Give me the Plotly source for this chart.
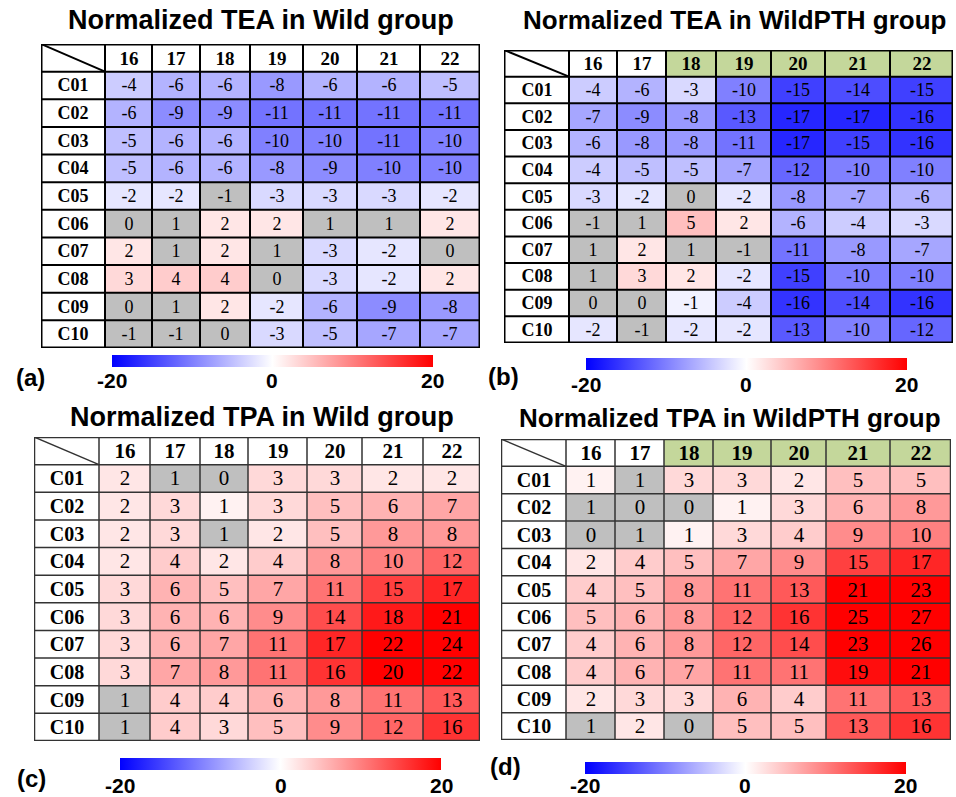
import numpy as np
import plotly.graph_objects as go

# ---------------- data ----------------
COLS = ["16", "17", "18", "19", "20", "21", "22"]
ROWS = ["C01", "C02", "C03", "C04", "C05", "C06", "C07", "C08", "C09", "C10"]

TEA_WILD = [
    [-4, -6, -6, -8, -6, -6, -5],
    [-6, -9, -9, -11, -11, -11, -11],
    [-5, -6, -6, -10, -10, -11, -10],
    [-5, -6, -6, -8, -9, -10, -10],
    [-2, -2, -1, -3, -3, -3, -2],
    [0, 1, 2, 2, 1, 1, 2],
    [2, 1, 2, 1, -3, -2, 0],
    [3, 4, 4, 0, -3, -2, 2],
    [0, 1, 2, -2, -6, -9, -8],
    [-1, -1, 0, -3, -5, -7, -7],
]
TEA_WILDPTH = [
    [-4, -6, -3, -10, -15, -14, -15],
    [-7, -9, -8, -13, -17, -17, -16],
    [-6, -8, -8, -11, -17, -15, -16],
    [-4, -5, -5, -7, -12, -10, -10],
    [-3, -2, 0, -2, -8, -7, -6],
    [-1, 1, 5, 2, -6, -4, -3],
    [1, 2, 1, -1, -11, -8, -7],
    [1, 3, 2, -2, -15, -10, -10],
    [0, 0, -1, -4, -16, -14, -16],
    [-2, -1, -2, -2, -13, -10, -12],
]
TPA_WILD = [
    [2, 1, 0, 3, 3, 2, 2],
    [2, 3, 1, 3, 5, 6, 7],
    [2, 3, 1, 2, 5, 8, 8],
    [2, 4, 2, 4, 8, 10, 12],
    [3, 6, 5, 7, 11, 15, 17],
    [3, 6, 6, 9, 14, 18, 21],
    [3, 6, 7, 11, 17, 22, 24],
    [3, 7, 8, 11, 16, 20, 22],
    [1, 4, 4, 6, 8, 11, 13],
    [1, 4, 3, 5, 9, 12, 16],
]
TPA_WILDPTH = [
    [1, 1, 3, 3, 2, 5, 5],
    [1, 0, 0, 1, 3, 6, 8],
    [0, 1, 1, 3, 4, 9, 10],
    [2, 4, 5, 7, 9, 15, 17],
    [4, 5, 8, 11, 13, 21, 23],
    [5, 6, 8, 12, 16, 25, 27],
    [4, 6, 8, 12, 14, 23, 26],
    [4, 6, 7, 11, 11, 19, 21],
    [2, 3, 3, 6, 4, 11, 13],
    [1, 2, 0, 5, 5, 13, 16],
]

# 1 = grey (non-significant) cell
GREY_TEA_WILD = [
    [0, 0, 0, 0, 0, 0, 0],
    [0, 0, 0, 0, 0, 0, 0],
    [0, 0, 0, 0, 0, 0, 0],
    [0, 0, 0, 0, 0, 0, 0],
    [0, 0, 1, 0, 0, 0, 0],
    [1, 1, 0, 0, 1, 1, 0],
    [0, 1, 0, 1, 0, 0, 1],
    [0, 0, 0, 1, 0, 0, 0],
    [1, 1, 0, 0, 0, 0, 0],
    [1, 1, 1, 0, 0, 0, 0],
]
GREY_TEA_WILDPTH = [
    [0, 0, 0, 0, 0, 0, 0],
    [0, 0, 0, 0, 0, 0, 0],
    [0, 0, 0, 0, 0, 0, 0],
    [0, 0, 0, 0, 0, 0, 0],
    [0, 0, 1, 0, 0, 0, 0],
    [1, 1, 0, 0, 0, 0, 0],
    [1, 0, 1, 1, 0, 0, 0],
    [1, 0, 0, 0, 0, 0, 0],
    [1, 1, 0, 0, 0, 0, 0],
    [0, 1, 0, 0, 0, 0, 0],
]
GREY_TPA_WILD = [
    [0, 1, 1, 0, 0, 0, 0],
    [0, 0, 0, 0, 0, 0, 0],
    [0, 0, 1, 0, 0, 0, 0],
    [0, 0, 0, 0, 0, 0, 0],
    [0, 0, 0, 0, 0, 0, 0],
    [0, 0, 0, 0, 0, 0, 0],
    [0, 0, 0, 0, 0, 0, 0],
    [0, 0, 0, 0, 0, 0, 0],
    [1, 0, 0, 0, 0, 0, 0],
    [1, 0, 0, 0, 0, 0, 0],
]
GREY_TPA_WILDPTH = [
    [0, 1, 0, 0, 0, 0, 0],
    [1, 1, 1, 0, 0, 0, 0],
    [1, 1, 0, 0, 0, 0, 0],
    [0, 0, 0, 0, 0, 0, 0],
    [0, 0, 0, 0, 0, 0, 0],
    [0, 0, 0, 0, 0, 0, 0],
    [0, 0, 0, 0, 0, 0, 0],
    [0, 0, 0, 0, 0, 0, 0],
    [0, 0, 0, 0, 0, 0, 0],
    [1, 0, 1, 0, 0, 0, 0],
]

# header highlight (1 = green header cell)
HEADER_WILD = [0, 0, 0, 0, 0, 0, 0]
HEADER_WILDPTH = [0, 0, 1, 1, 1, 1, 1]

TITLES = [
    "Normalized TEA in Wild group",
    "Normalized TEA in WildPTH group",
    "Normalized TPA in Wild group",
    "Normalized TPA in WildPTH group",
]
LETTERS = ["(a)", "(b)", "(c)", "(d)"]
CBAR_MIN, CBAR_MID, CBAR_MAX = -20, 0, 20

# ---------------- layout / style ----------------
W, H = 956, 797
BLUE_WHITE_RED = [[0.0, "rgb(0,0,255)"], [0.5, "rgb(255,255,255)"], [1.0, "rgb(255,0,0)"]]
GREY = "#bfbfbf"
GREEN = "#c4d79b"
SERIF = "Liberation Serif"
SANS = "Liberation Sans"
CBAR_LEN = 321
CBAR_THICK = 12

PANELS = [
    dict(data=TEA_WILD, grey=GREY_TEA_WILD, header=HEADER_WILD,
         left=41, top=44, bottom=348, widths=[64, 47, 48, 50, 53, 54, 63, 60],
         title_xy=(261, 20), title_size=27, letter_xy=(30, 377), cbar=(272, 355), cbar_lab_y=380,
         num_size=18, lab_size=18, hdr_size=19, grid="#000000", gw=2, bw=3),
    dict(data=TEA_WILDPTH, grey=GREY_TEA_WILDPTH, header=HEADER_WILDPTH,
         left=504, top=50, bottom=343, widths=[65, 48, 49, 50, 55, 54, 65, 63],
         title_xy=(734, 20), title_size=26, letter_xy=(503, 376), cbar=(746, 358), cbar_lab_y=384,
         num_size=18, lab_size=18, hdr_size=19, grid="#000000", gw=2, bw=3),
    dict(data=TPA_WILD, grey=GREY_TPA_WILD, header=HEADER_WILD,
         left=34, top=437, bottom=741, widths=[65, 51, 50, 48, 59, 55, 61, 57],
         title_xy=(262, 417), title_size=27, letter_xy=(31, 778), cbar=(281, 758), cbar_lab_y=785,
         num_size=21, lab_size=20, hdr_size=21, grid="#333333", gw=1.5, bw=2.5),
    dict(data=TPA_WILDPTH, grey=GREY_TPA_WILDPTH, header=HEADER_WILDPTH,
         left=501, top=439, bottom=740, widths=[65, 49, 49, 49, 58, 55, 64, 61],
         title_xy=(730, 418), title_size=26, letter_xy=(505, 766), cbar=(745, 762), cbar_lab_y=785,
         num_size=21, lab_size=20, hdr_size=21, grid="#333333", gw=1.5, bw=2.5),
]

fig = go.Figure()
shapes = []
annotations = []
layout_axes = {}

for i, (p, title, letter) in enumerate(zip(PANELS, TITLES, LETTERS)):
    n = i + 1
    xa = "x" if n == 1 else f"x{n}"
    ya = "y" if n == 1 else f"y{n}"
    xkey = "xaxis" if n == 1 else f"xaxis{n}"
    ykey = "yaxis" if n == 1 else f"yaxis{n}"

    edges = np.concatenate([[0], np.cumsum(p["widths"])]).tolist()
    total_w = edges[-1]
    data_x = edges[1:]
    nrows = len(ROWS)
    yedges_all = list(range(nrows + 2))  # 0 = header row
    data_y = list(range(1, nrows + 2))

    right = p["left"] + total_w
    layout_axes[xkey] = dict(domain=[p["left"] / W, right / W], range=[0, total_w],
                             visible=False, fixedrange=True)
    layout_axes[ykey] = dict(domain=[1 - p["bottom"] / H, 1 - p["top"] / H],
                             range=[nrows + 1, 0], visible=False, fixedrange=True)

    z = np.array(p["data"], dtype=float)
    text = [[str(v) for v in row] for row in p["data"]]

    # main coloured cells with colourbar
    fig.add_trace(go.Heatmap(
        x=data_x, y=data_y, z=z, text=text, texttemplate="%{text}",
        textfont=dict(family=SERIF, size=p["num_size"], color="black"),
        colorscale=BLUE_WHITE_RED, zmin=CBAR_MIN, zmax=CBAR_MAX, hoverinfo="skip",
        xaxis=xa, yaxis=ya, showscale=True,
        colorbar=dict(orientation="h", x=p["cbar"][0] / W, xanchor="center",
                      y=1 - p["cbar"][1] / H, yanchor="top",
                      len=CBAR_LEN, lenmode="pixels", thickness=CBAR_THICK,
                      thicknessmode="pixels", xpad=0, ypad=0, outlinewidth=0,
                      ticks="", showticklabels=False),
    ))

    # colourbar end / centre labels
    cx = p["cbar"][0]
    for val, lx in [(CBAR_MIN, cx - CBAR_LEN / 2), (CBAR_MID, cx), (CBAR_MAX, cx + CBAR_LEN / 2)]:
        annotations.append(dict(text=f"<b>{val}</b>", xref="paper", yref="paper",
                                x=lx / W, y=1 - p["cbar_lab_y"] / H,
                                xanchor="center", yanchor="middle", showarrow=False,
                                font=dict(family=SANS, size=21, color="black")))

    # grey overlay for non-significant cells
    gz = [[1 if g else None for g in grow] for grow in p["grey"]]
    gt = [[str(v) if g else "" for v, g in zip(vrow, grow)]
          for vrow, grow in zip(p["data"], p["grey"])]
    fig.add_trace(go.Heatmap(
        x=data_x, y=data_y, z=gz, text=gt, texttemplate="%{text}",
        textfont=dict(family=SERIF, size=p["num_size"], color="black"),
        colorscale=[[0, GREY], [1, GREY]], zmin=0, zmax=1, showscale=False,
        hoverinfo="skip", xaxis=xa, yaxis=ya,
    ))

    # header row
    fig.add_trace(go.Heatmap(
        x=data_x, y=[0, 1], z=[p["header"]], text=[COLS],
        texttemplate="<b>%{text}</b>",
        textfont=dict(family=SERIF, size=p["hdr_size"], color="black"),
        colorscale=[[0, "white"], [1, GREEN]], zmin=0, zmax=1, showscale=False,
        hoverinfo="skip", xaxis=xa, yaxis=ya,
    ))

    # row label column (with empty corner cell)
    fig.add_trace(go.Heatmap(
        x=[0, edges[1]], y=yedges_all, z=[[0]] * (nrows + 1),
        text=[[""]] + [[r] for r in ROWS], texttemplate="<b>%{text}</b>",
        textfont=dict(family=SERIF, size=p["lab_size"], color="black"),
        colorscale=[[0, "white"], [1, "white"]], zmin=0, zmax=1, showscale=False,
        hoverinfo="skip", xaxis=xa, yaxis=ya,
    ))

    # grid lines
    for xe in edges[1:-1]:
        shapes.append(dict(type="line", xref=xa, yref=ya, x0=xe, x1=xe, y0=0, y1=nrows + 1,
                           line=dict(color=p["grid"], width=p["gw"])))
    for ye in yedges_all[1:-1]:
        shapes.append(dict(type="line", xref=xa, yref=ya, x0=0, x1=total_w, y0=ye, y1=ye,
                           line=dict(color=p["grid"], width=p["gw"])))
    shapes.append(dict(type="rect", xref=xa, yref=ya, x0=0, x1=total_w, y0=0, y1=nrows + 1,
                       line=dict(color=p["grid"], width=p["bw"])))
    # diagonal in corner cell
    shapes.append(dict(type="line", xref=xa, yref=ya, x0=0, y0=0, x1=edges[1], y1=1,
                       line=dict(color=p["grid"], width=p["gw"])))

    annotations.append(dict(text=f"<b>{title}</b>", xref="paper", yref="paper",
                            x=p["title_xy"][0] / W, y=1 - p["title_xy"][1] / H,
                            xanchor="center", yanchor="middle", showarrow=False,
                            font=dict(family=SANS, size=p["title_size"], color="black")))
    annotations.append(dict(text=f"<b>{letter}</b>", xref="paper", yref="paper",
                            x=p["letter_xy"][0] / W, y=1 - p["letter_xy"][1] / H,
                            xanchor="center", yanchor="middle", showarrow=False,
                            font=dict(family=SANS, size=24, color="black")))

fig.update_layout(
    width=W, height=H, margin=dict(l=0, r=0, t=0, b=0),
    paper_bgcolor="white", plot_bgcolor="white",
    showlegend=False, shapes=shapes, annotations=annotations,
    **layout_axes,
)

fig.write_html("out.html", config={"displayModeBar": False},
               post_script="document.body.style.margin='0';")
